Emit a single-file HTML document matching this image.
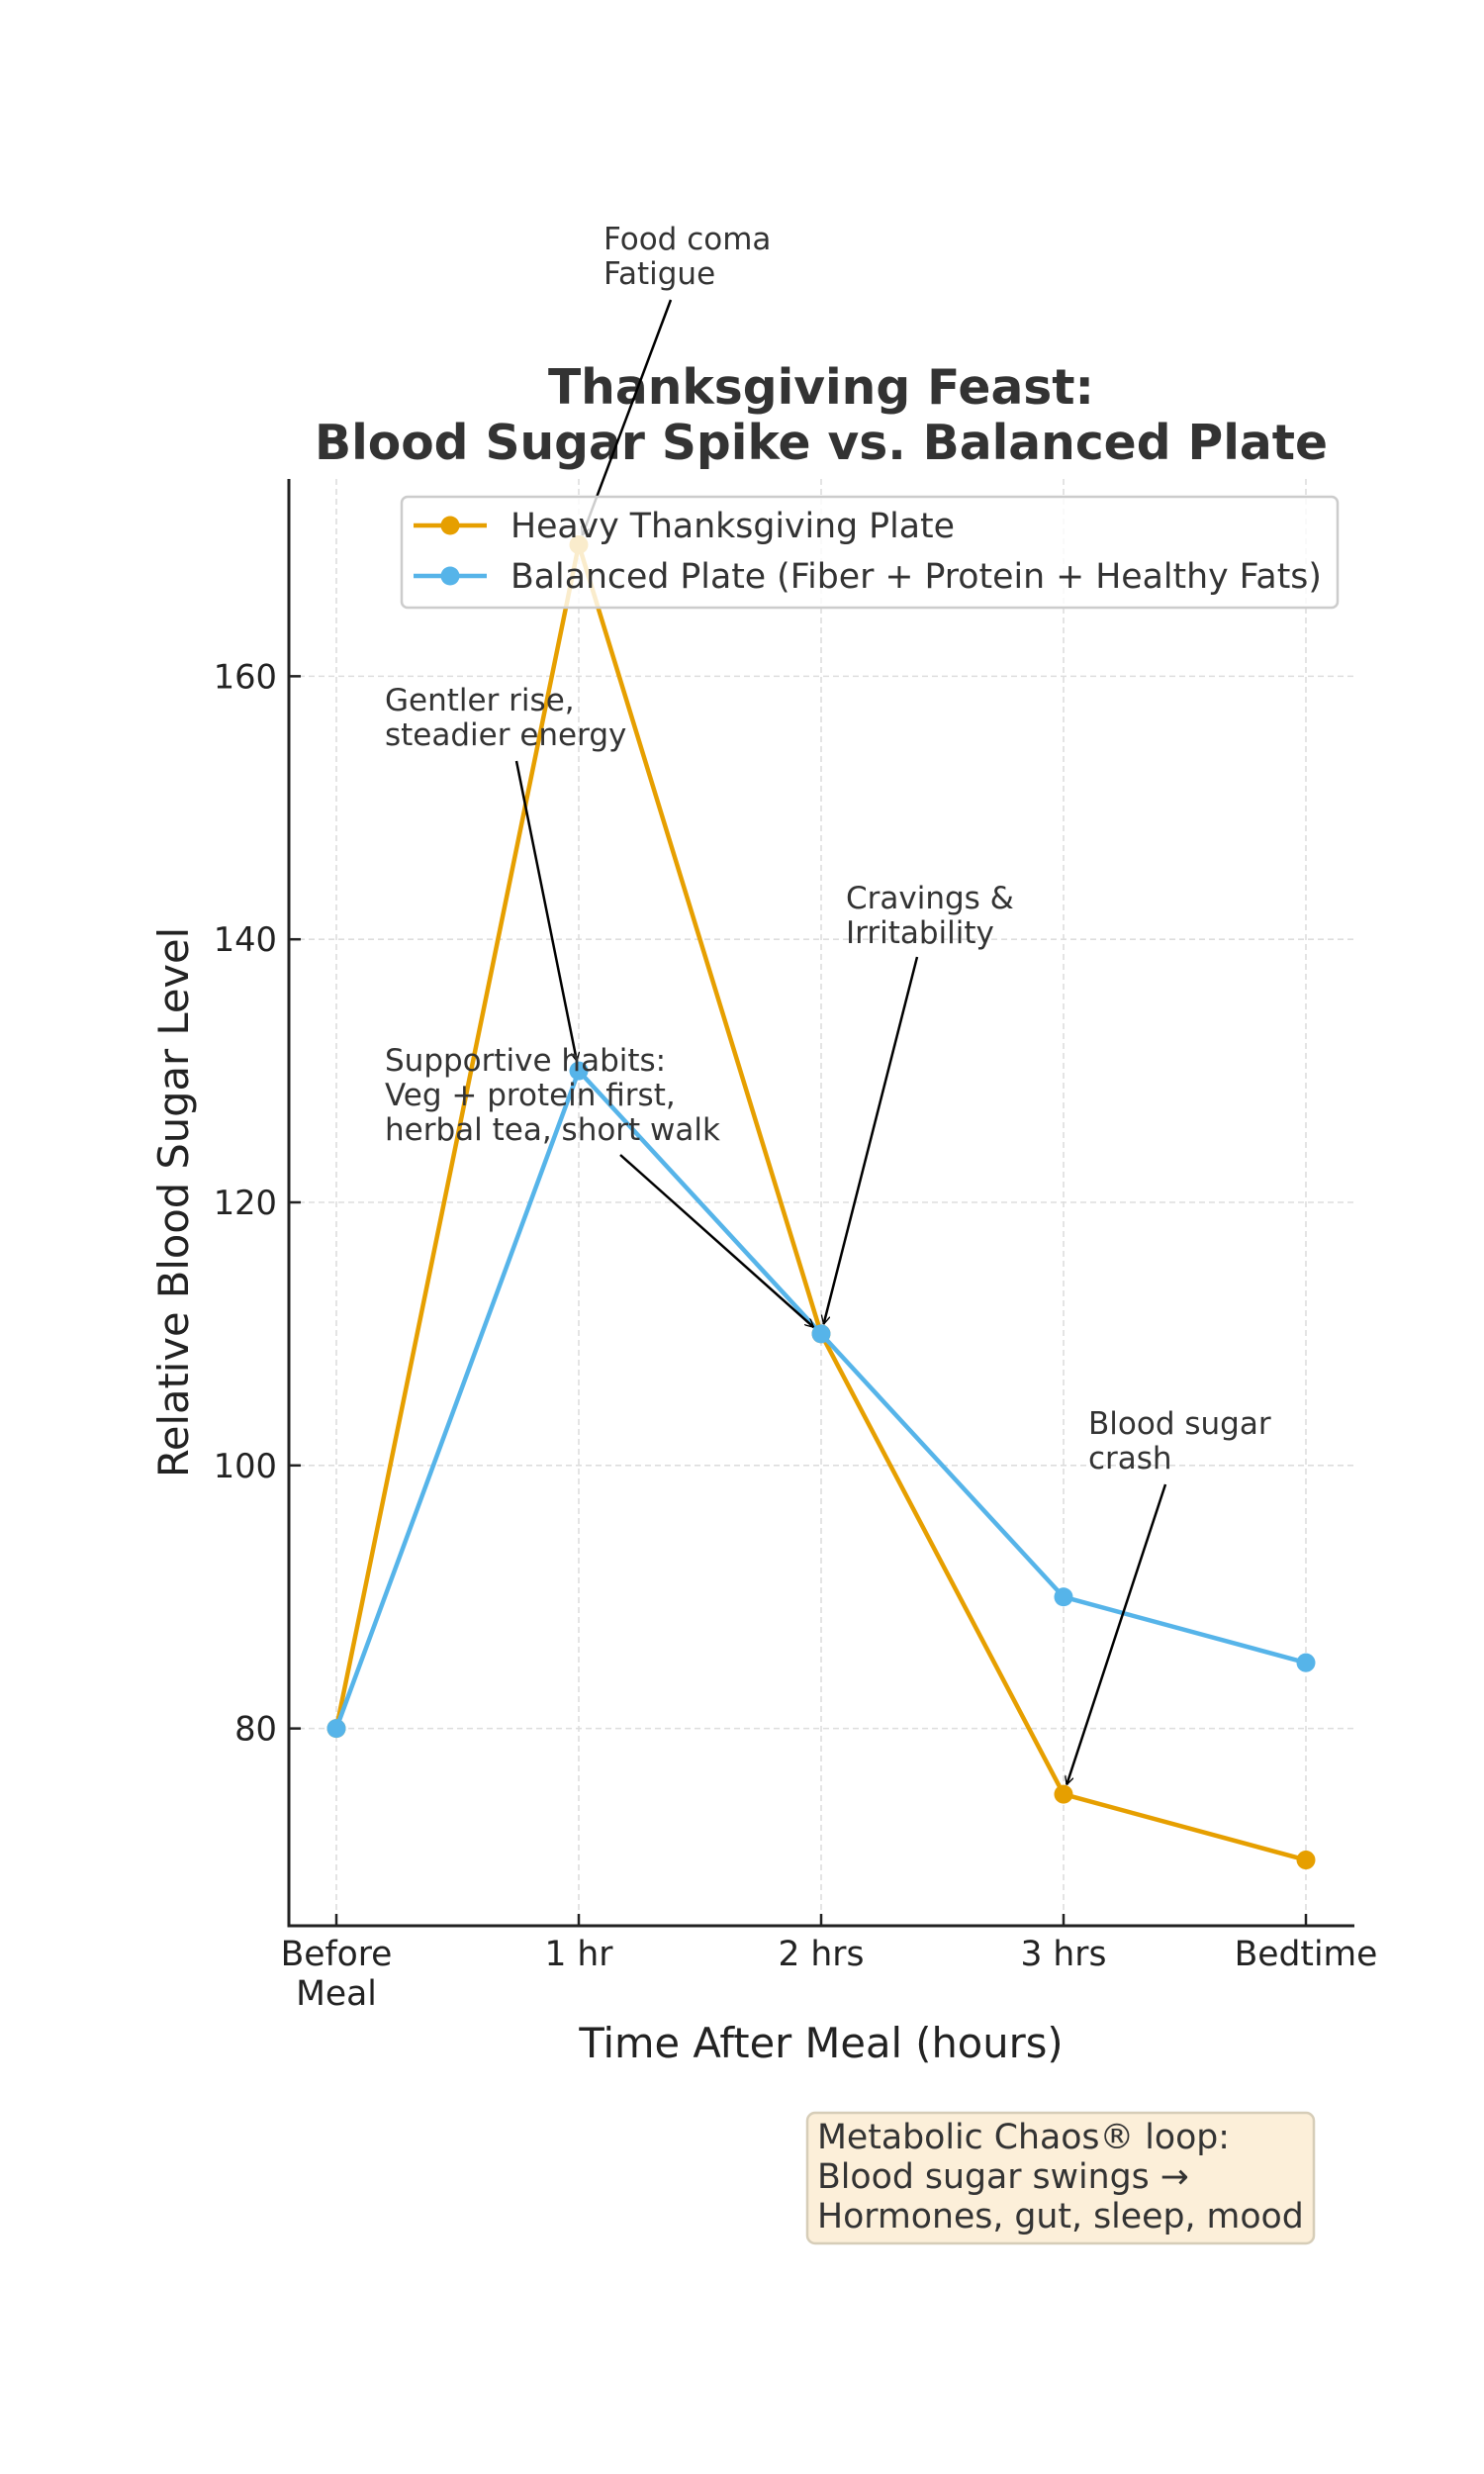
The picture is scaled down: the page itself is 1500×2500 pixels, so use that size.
<!DOCTYPE html>
<html><head><meta charset="utf-8"><style>
html,body{margin:0;padding:0;background:#fff}
svg{display:block}
text{font-family:"DejaVu Sans","Liberation Sans",sans-serif}
</style></head><body>
<svg id="chart" width="1500" height="2500" viewBox="0 0 1500 2500" xmlns="http://www.w3.org/2000/svg">
<defs><marker id="ah" viewBox="0 0 10 10" refX="10" refY="5" markerWidth="9" markerHeight="9" orient="auto" markerUnits="userSpaceOnUse"><path d="M0,0 L10,5 L0,10" fill="none" stroke="#000" stroke-width="1.5"/></marker></defs>
<g id="title">
<text x="830" y="408" text-anchor="middle" font-size="48.7" font-weight="bold" fill="#333">Thanksgiving Feast:</text>
<text x="830" y="464" text-anchor="middle" font-size="48.7" font-weight="bold" fill="#333">Blood Sugar Spike vs. Balanced Plate</text>
</g>
<g id="grid"></g>
<g id="series"></g>
<g id="axes"></g>
<g id="legend">
<rect x="406" y="502" width="946" height="112" rx="6" fill="#fff" fill-opacity="0.8" stroke="#ccc" stroke-width="2.5"/>
<g>
<line x1="418" y1="531" x2="492" y2="531" stroke="#E69F00" stroke-width="4.5"/><circle cx="455" cy="531" r="9.5" fill="#E69F00"/>
<text x="516" y="543" font-size="34.7" fill="#333">Heavy Thanksgiving Plate</text></g>
<g>
<line x1="418" y1="582" x2="492" y2="582" stroke="#56B4E9" stroke-width="4.5"/><circle cx="455" cy="582" r="9.5" fill="#56B4E9"/>
<text x="516" y="594" font-size="34.7" fill="#333">Balanced Plate (Fiber + Protein + Healthy Fats)</text></g>
</g>
<g id="annots"></g>
<g id="note">
<rect x="816" y="2135" width="512" height="132" rx="8" fill="#fcefd9" stroke="#d6cdb8" stroke-width="2.5"/>
<text x="826" y="2171" font-size="34.7" fill="#333">Metabolic Chaos® loop:</text>
<text x="826" y="2211" font-size="34.7" fill="#333">Blood sugar swings →</text>
<text x="826" y="2251" font-size="34.7" fill="#333">Hormones, gut, sleep, mood</text>
</g>
</svg>
<script>
const categories=[["Before","Meal"],["1 hr"],["2 hrs"],["3 hrs"],["Bedtime"]];
const heavyValues=[80,170,110,75,70];
const balancedValues=[80,130,110,90,85];
const yTicks=[80,100,120,140,160];
const yMin=65,yMax=175;
const NS="http://www.w3.org/2000/svg";
const L=292,R=1369,T=484,B=1946,X0=340,DX=245;
const xs=i=>X0+i*DX;
const ys=v=>B-(v-yMin)/(yMax-yMin)*(B-T);
function mk(p,tag,a){const e=document.createElementNS(NS,tag);for(const k in a)e.setAttribute(k,a[k]);p.appendChild(e);return e;}
const grid=document.getElementById('grid'),axes=document.getElementById('axes'),ser=document.getElementById('series'),an=document.getElementById('annots');
yTicks.forEach(v=>{const g=mk(grid,'line',{x1:L,x2:R,y1:ys(v),y2:ys(v),stroke:'#ddd','stroke-width':1.6,'stroke-dasharray':'6 4'});


mk(axes,'line',{x1:L,x2:L+12,y1:ys(v),y2:ys(v),stroke:'#222','stroke-width':2.5});
const tx=mk(axes,'text',{x:L-12,y:ys(v)+12,'text-anchor':'end','font-size':33.7,fill:'#222'});tx.textContent=v;

});
categories.forEach((c,i)=>{const g=mk(grid,'line',{x1:xs(i),x2:xs(i),y1:T,y2:B,stroke:'#ddd','stroke-width':1.6,'stroke-dasharray':'6 4'});


mk(axes,'line',{x1:xs(i),x2:xs(i),y1:B,y2:B-12,stroke:'#222','stroke-width':2.5});
c.forEach((s,j)=>{const tx=mk(axes,'text',{x:xs(i),y:1986+j*40,'text-anchor':'middle','font-size':34.5,fill:'#222'});tx.textContent=s;

});});
mk(axes,'line',{x1:L,x2:L,y1:T,y2:B+1.5,stroke:'#222','stroke-width':3});
mk(axes,'line',{x1:L-1.5,x2:R,y1:B,y2:B,stroke:'#222','stroke-width':3});
let t=mk(axes,'text',{x:830,y:2079,'text-anchor':'middle','font-size':41.6,fill:'#222'});t.textContent='Time After Meal (hours)';


t=mk(axes,'text',{x:190,y:1215,'text-anchor':'middle','font-size':41.6,fill:'#222',transform:'rotate(-90 190 1215)'});t.textContent='Relative Blood Sugar Level';


function series(vals,col,name){const g=mk(ser,'g',{});


mk(g,'polyline',{points:vals.map((v,i)=>xs(i)+','+ys(v)).join(' '),fill:'none',stroke:col,'stroke-width':4.5,'stroke-linejoin':'round'});
vals.forEach((v,i)=>{const c=mk(g,'circle',{cx:xs(i),cy:ys(v),r:9.5,fill:col});

});}
series(heavyValues,'#E69F00','heavy-plate-series');
series(balancedValues,'#56B4E9','balanced-plate-series');
const notes=[
 {lines:["Food coma","Fatigue"],x:610,y:252,from:[678,303],i:1,v:heavyValues[1]},
 {lines:["Gentler rise,","steadier energy"],x:389,y:718,from:[522,769],i:1,v:balancedValues[1]},
 {lines:["Cravings &","Irritability"],x:855,y:918,from:[927,967],i:2,v:heavyValues[2]},
 {lines:["Supportive habits:","Veg + protein first,","herbal tea, short walk"],x:389,y:1082,from:[627,1167],i:2,v:balancedValues[2]},
 {lines:["Blood sugar","crash"],x:1100,y:1449,from:[1178,1500],i:3,v:heavyValues[3]}];
notes.forEach(n=>{const g=mk(an,'g',{});


n.lines.forEach((s,j)=>{const tx=mk(g,'text',{x:n.x,y:n.y+j*35,'font-size':31,fill:'#333'});tx.textContent=s;});
const tx=xs(n.i),ty=ys(n.v),dx=tx-n.from[0],dy=ty-n.from[1],d=Math.hypot(dx,dy);
mk(g,'line',{x1:n.from[0],y1:n.from[1],x2:tx-dx/d*10,y2:ty-dy/d*10,stroke:'#000','stroke-width':2.5,'marker-end':'url(#ah)'});});
document.getElementById('chart').appendChild(document.getElementById('legend'));
document.getElementById('chart').appendChild(document.getElementById('note'));
</script>
</body></html>
